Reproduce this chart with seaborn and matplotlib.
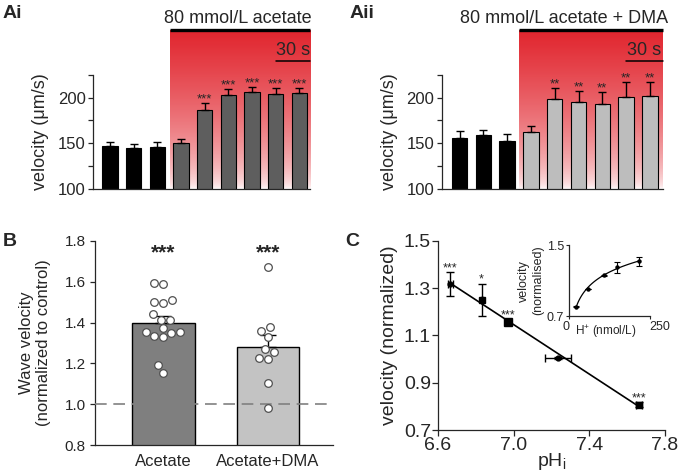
import numpy as np
import pandas as pd
import matplotlib
matplotlib.use('Agg')
import matplotlib.pyplot as plt
import seaborn as sns

# Ai / Aii: wave velocity at successive time points (mean and SEM, um/s)
ai_velocity = [147.3, 144.7, 146.2, 149.9, 186.5, 203.4, 206.3, 204.1, 204.8]
ai_sem = [4.4, 4.8, 5.5, 4.7, 7.7, 6.6, 5.1, 6.9, 6.2]
ai_stars = ['', '', '', '', '***', '***', '***', '***', '***']
aii_velocity = [155.9, 158.8, 152.9, 161.8, 198.9, 195.6, 193.0, 201.1, 202.2]
aii_sem = [7.7, 5.9, 7.4, 7.3, 11.4, 11.4, 13.2, 15.8, 15.4]
aii_stars = ['', '', '', '', '**', '**', '**', '**', '**']

# B: single experiments, wave velocity normalised to control
b_acetate = [1.595, 1.588, 1.494, 1.499, 1.509, 1.440, 1.414, 1.414, 1.372,
             1.350, 1.336, 1.355, 1.328, 1.355, 1.192, 1.155]
b_dma = [1.670, 1.380, 1.360, 1.329, 1.256, 1.271, 1.223, 1.227, 1.103, 0.981]
b_groups = ['Acetate', 'Acetate+DMA']

# C: normalised velocity against intracellular pH
c_ph = [6.666, 6.831, 6.970, 7.236, 7.663]
c_ph_err = [0.012, 0.0, 0.008, 0.068, 0.015]
c_velocity = [1.317, 1.249, 1.158, 1.005, 0.807]
c_velocity_err = [0.050, 0.069, 0.010, 0.005, 0.010]
c_stars = ['***', '*', '***', '', '***']
c_markers = ['o', 's', 's', 'o', 's']
c_marker_size = [3.5, 5, 6, 3.5, 5]

# C inset: same velocities against [H+]
h_conc = [22, 58, 107, 148, 216]
h_velocity = [0.807, 1.005, 1.158, 1.249, 1.317]
h_velocity_err = [0.010, 0.005, 0.010, 0.066, 0.047]

sns.set_style('ticks')
plt.rcParams['font.family'] = ['Liberation Sans', 'DejaVu Sans']
plt.rcParams['mathtext.default'] = 'regular'
plt.rcParams['axes.linewidth'] = 0.9

RED = (0.886, 0.145, 0.18)


def velocity_panel(ax, velocity, sem, stars, treat_color, title, xlim, title_x):
    n = len(velocity)
    df = pd.DataFrame({'time': [str(i) for i in range(n)], 'velocity': velocity})
    colors = ['black'] * 3 + [treat_color] * (n - 3)
    sns.barplot(data=df, x='time', y='velocity', hue='time', palette=colors,
                legend=False, width=0.65, edgecolor='black', linewidth=0.8,
                saturation=1, ax=ax, zorder=2)
    ax.errorbar(range(n), velocity, yerr=[np.zeros(n), sem], fmt='none',
                ecolor='black', elinewidth=1, capsize=3, capthick=1, zorder=3)
    for i in range(n):
        if stars[i]:
            ax.text(i, velocity[i] + sem[i] + 4, stars[i], ha='center',
                    va='center', fontsize=9.5)

    # treatment period shown as a red gradient fading downwards
    top = 274.6
    grad = np.ones((256, 1, 4))
    grad[:, 0, :3] = RED
    grad[:, 0, 3] = np.linspace(0, 1, 256) ** 0.55
    im = ax.imshow(grad, extent=[2.52, xlim[1], 100, top], origin='lower',
                   aspect='auto', zorder=0, interpolation='bilinear')
    im.set_clip_on(False)
    ax.plot([2.52, xlim[1]], [top, top], color='black', lw=2.4,
            solid_capstyle='butt', clip_on=False)
    ax.text(title_x, 282, title, ha='right', va='baseline', fontsize=13)
    ax.plot([7.0, xlim[1]], [240.5, 240.5], color='black', lw=1.1, clip_on=False)
    ax.text((7.0 + xlim[1]) / 2, 242.5, '30 s', ha='center', va='bottom', fontsize=13)

    ax.set_xlim(*xlim)
    ax.set_ylim(100, 225)
    ax.set_yticks([100, 150, 200])
    ax.set_yticks([125, 175, 225], minor=True)
    ax.set_xticks([])
    ax.set_xlabel('')
    ax.set_ylabel('velocity (\u03bcm/s)', fontsize=13, labelpad=6)
    ax.tick_params(axis='y', which='both', length=3.5, width=0.9, labelsize=12, pad=2)
    sns.despine(ax=ax)


fig = plt.figure(figsize=(6.79, 4.76), dpi=100)
ax_ai = fig.add_axes([0.1374, 0.6036, 0.3192, 0.2388])
ax_aii = fig.add_axes([0.6505, 0.6036, 0.3259, 0.2388])
ax_b = fig.add_axes([0.1399, 0.0645, 0.3505, 0.4298])
ax_c = fig.add_axes([0.645, 0.0966, 0.3344, 0.3977])
ax_in = fig.add_axes([0.838, 0.336, 0.119, 0.149])

velocity_panel(ax_ai, ai_velocity, ai_sem, ai_stars, '#5e5e5e',
               '80 mmol/L acetate', (-0.7, 8.45), 8.5)
velocity_panel(ax_aii, aii_velocity, aii_sem, aii_stars, '#bdbdbd',
               '80 mmol/L acetate + DMA', (-0.75, 8.55), 8.75)

# ---- B
df_b = pd.DataFrame({
    'group': [b_groups[0]] * len(b_acetate) + [b_groups[1]] * len(b_dma),
    'velocity': b_acetate + b_dma,
})
sns.barplot(data=df_b, x='group', y='velocity', hue='group',
            palette=['#7f7f7f', '#c3c3c3'], legend=False, errorbar=None,
            width=0.6, edgecolor='black', linewidth=1, saturation=1,
            ax=ax_b, zorder=2)
stats = df_b.groupby('group', sort=False)['velocity'].agg(['mean', 'sem'])
ax_b.errorbar(range(2), stats['mean'], yerr=[np.zeros(2), stats['sem']],
              fmt='none', ecolor='black', elinewidth=1, capsize=6, capthick=1,
              zorder=3)
ax_b.axhline(1.0, color='#808080', lw=1.2, dashes=(7, 4), zorder=3)
sns.swarmplot(data=df_b, x='group', y='velocity', color='white',
              edgecolor='#505050', linewidth=0.9, size=5.5, ax=ax_b, zorder=4)
for i in range(2):
    ax_b.text(i, 1.74, '***', ha='center', va='center', fontsize=15,
              fontweight='bold')
ax_b.set_ylim(0.8, 1.8)
ax_b.set_xlim(-0.65, 1.62)
ax_b.set_yticks(np.arange(0.8, 1.81, 0.2))
ax_b.set_yticklabels(['%.1f' % v for v in np.arange(0.8, 1.81, 0.2)])
ax_b.set_xlabel('')
ax_b.set_ylabel('Wave velocity\n(normalized to control)', fontsize=12, labelpad=10)
ax_b.tick_params(axis='y', length=3.5, width=0.9, labelsize=11, pad=3)
ax_b.tick_params(axis='x', length=0, labelsize=12, pad=6)
sns.despine(ax=ax_b)

# ---- C
sns.regplot(x=c_ph, y=c_velocity, ci=None, scatter=False, truncate=True,
            line_kws=dict(color='black', lw=1.2), ax=ax_c)
for i in range(len(c_ph)):
    ax_c.errorbar(c_ph[i], c_velocity[i], xerr=c_ph_err[i], yerr=c_velocity_err[i],
                  fmt=c_markers[i], color='black', markersize=c_marker_size[i],
                  elinewidth=1, capsize=3, capthick=1, zorder=3)
    if c_stars[i]:
        ax_c.text(c_ph[i], c_velocity[i] + c_velocity_err[i] + 0.017, c_stars[i],
                  ha='center', va='center', fontsize=9)
ax_c.set_xlim(6.6, 7.8)
ax_c.set_ylim(0.7, 1.5)
ax_c.set_xticks([6.6, 7.0, 7.4, 7.8])
ax_c.set_yticks([0.7, 0.9, 1.1, 1.3, 1.5])
ax_c.set_xlabel('pH$_{i}$', fontsize=14, labelpad=-2)
ax_c.set_ylabel('velocity (normalized)', fontsize=14, labelpad=4)
ax_c.tick_params(length=4, width=0.9, labelsize=14, pad=1)
sns.despine(ax=ax_c)

# inset
h_fit = np.polyfit(np.log(h_conc), h_velocity, 1)
h_line = np.linspace(min(h_conc), max(h_conc), 100)
sns.lineplot(x=h_line, y=np.polyval(h_fit, np.log(h_line)), color='black',
             lw=0.9, ax=ax_in)
ax_in.errorbar(h_conc, h_velocity, yerr=h_velocity_err, fmt='o', color='black',
               markersize=2.2, elinewidth=0.8, capsize=2, capthick=0.8)
ax_in.set_xlim(0, 250)
ax_in.set_ylim(0.7, 1.5)
ax_in.set_xticks([0, 250])
ax_in.set_yticks([0.7, 1.5])
ax_in.set_xlabel('H$^{+}$ (nmol/L)', fontsize=8.5)
ax_in.xaxis.set_label_coords(0.46, -0.1)
ax_in.set_ylabel('velocity\n(normalised)', fontsize=9, labelpad=2)
ax_in.tick_params(length=2, width=0.8, labelsize=9, pad=1.5)
ax_in.set_xticklabels(['0', '250'], fontsize=9)
ax_in.get_xticklabels()[1].set_horizontalalignment('left')
ax_in.get_xticklabels()[0].set_horizontalalignment('right')
sns.despine(ax=ax_in)

for x, y, s in [(3, 5, 'Ai'), (350, 5, 'Aii'), (3, 233, 'B'), (345, 233, 'C')]:
    fig.text(x / 679, 1 - y / 476, s, fontsize=14, fontweight='bold', va='top')

fig.savefig('out.png', dpi=100)
